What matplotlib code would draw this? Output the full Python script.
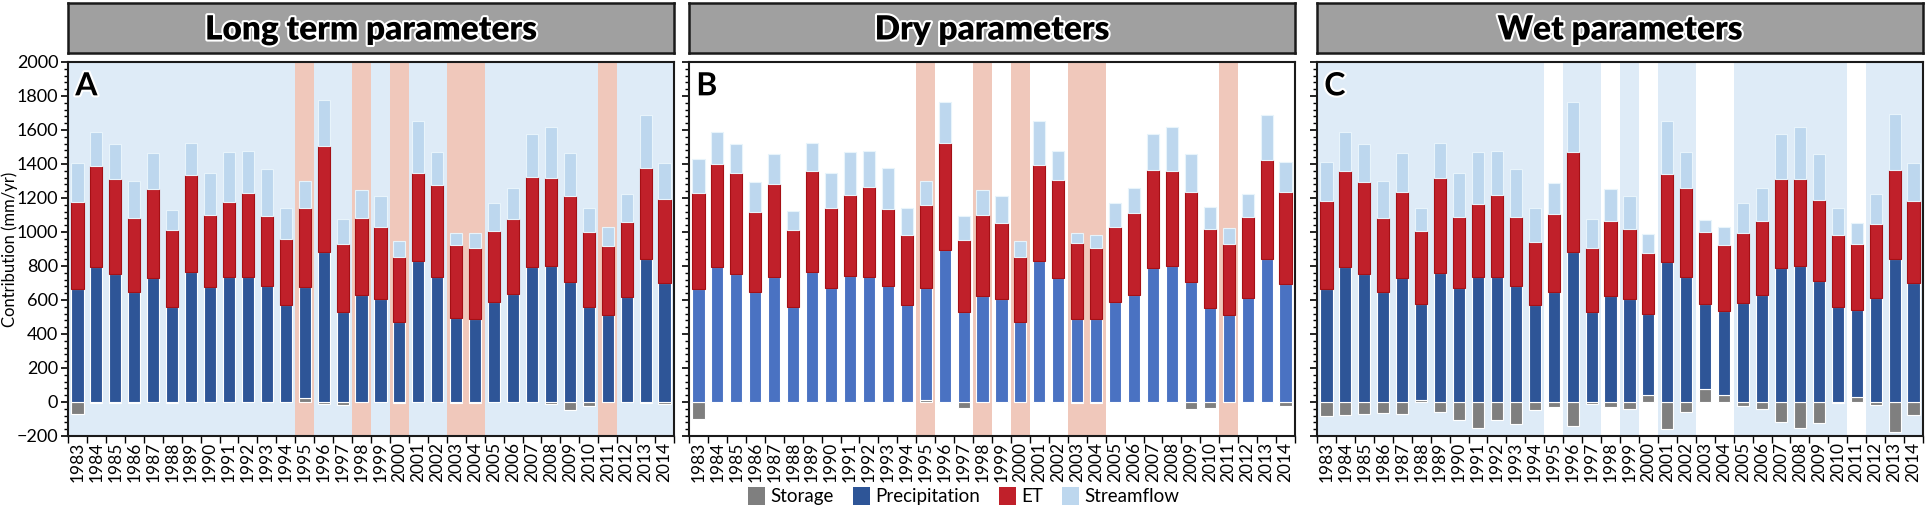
import matplotlib
matplotlib.use("Agg")
import matplotlib.pyplot as plt
import matplotlib.patheffects as pe
from matplotlib.patches import Patch
from matplotlib.ticker import MultipleLocator, FixedLocator
import numpy as np

plt.rcParams['font.family'] = ['Lato', 'DejaVu Sans']

years = [1983, 1984, 1985, 1986, 1987, 1988, 1989, 1990, 1991, 1992, 1993, 1994,
         1995, 1996, 1997, 1998, 1999, 2000, 2001, 2002, 2003, 2004, 2005, 2006,
         2007, 2008, 2009, 2010, 2011, 2012, 2013, 2014]
dry_years = [1995, 1998, 2000, 2003, 2004, 2011]

panel_titles = ["Long term parameters", "Dry parameters", "Wet parameters"]
panel_letters = ["A", "B", "C"]

# Panel A (long term parameters)
storage_A = [-73, -3, -5, -3, 0, -5, 0, 0, 0, 0, 0, 0, 24, -10, -15, 0, 0, -3, 0, 0, -3, -5,
             0, 0, 0, -10, -45, -24, 0, 0, -8, -14]
precip_A = [663, 792, 755, 647, 731, 556, 763, 674, 733, 733, 684, 568, 650, 882, 529, 627,
            604, 472, 828, 733, 493, 490, 588, 633, 792, 802, 708, 556, 509, 617, 840, 698]
et_A = [515, 594, 559, 437, 520, 456, 570, 424, 443, 498, 408, 389, 465, 626, 400, 455,
        427, 379, 519, 542, 432, 414, 420, 445, 530, 516, 504, 442, 409, 440, 535, 496]
q_A = [228, 200, 204, 214, 212, 115, 191, 247, 297, 246, 277, 186, 163, 271, 147, 167,
       181, 98, 304, 196, 69, 90, 165, 183, 256, 298, 255, 145, 109, 167, 315, 212]

# Panel B (dry parameters)
storage_B = [-100, 0, -8, -3, 0, -5, 0, -3, 0, 0, -5, 0, 14, -3, -35, 0, 0, 0, 0, -3, -5, -3,
             0, 0, 0, -8, -43, -33, 0, 0, -8, -22]
precip_B = [663, 796, 755, 645, 733, 556, 763, 668, 741, 735, 680, 568, 654, 892, 527, 621,
            604, 470, 828, 731, 491, 488, 588, 631, 786, 800, 708, 554, 509, 613, 841, 696]
et_B = [566, 604, 590, 475, 549, 458, 594, 473, 477, 530, 455, 414, 491, 630, 426, 481,
        449, 385, 566, 577, 442, 416, 443, 479, 581, 561, 525, 466, 420, 475, 581, 539]
q_B = [200, 186, 175, 176, 179, 112, 169, 208, 253, 210, 240, 159, 143, 243, 139, 147,
       159, 92, 257, 169, 63, 80, 142, 151, 211, 255, 228, 129, 96, 134, 268, 179]

# Panel C (wet parameters)
storage_C = [-81, -79, -71, -67, -69, 12, -57, -104, -153, -106, -132, -47, -28, -140, -12,
             -31, -43, 39, -159, -57, 79, 43, -26, -41, -116, -151, -124, -8, 28, -20, -177, -75]
precip_C = [663, 792, 755, 647, 729, 564, 761, 670, 733, 735, 684, 568, 649, 883, 529, 623,
            604, 476, 826, 733, 495, 492, 584, 629, 790, 802, 710, 556, 515, 611, 839, 698]
et_C = [519, 569, 541, 433, 508, 430, 555, 418, 430, 481, 402, 375, 459, 590, 379, 444,
        414, 360, 517, 528, 426, 387, 408, 434, 522, 510, 478, 426, 388, 436, 526, 482]
q_C = [230, 229, 224, 218, 226, 135, 208, 257, 308, 259, 285, 198, 182, 292, 167, 184,
       194, 111, 308, 210, 73, 109, 181, 196, 265, 306, 273, 159, 124, 177, 327, 228]

panels = [
    (storage_A, precip_A, et_A, q_A),
    (storage_B, precip_B, et_B, q_B),
    (storage_C, precip_C, et_C, q_C),
]

C_STORAGE = '#7f7f7f'
C_PRECIP_DARK = '#2e5597'
C_PRECIP_LIGHT = '#4a72c2'
C_ET = '#c0202a'
C_Q = '#bdd7ee'
C_WET_BG = '#deebf7'
C_DRY_BG = '#f0c8bb'

precip_colors = [C_PRECIP_DARK, C_PRECIP_LIGHT, C_PRECIP_DARK]

W, H = 1928, 509
fig = plt.figure(figsize=(W / 100, H / 100), dpi=100)

ax_lefts = [68, 689, 1317]
ax_w = 606
ax_top, ax_bot = 62, 436
box_top, box_bot = 3, 53

x = np.arange(len(years))
bar_w = 0.64

for p, (st, pr, et, q) in enumerate(panels):
    st = np.array(st, dtype=float)
    pr = np.array(pr, dtype=float)
    et = np.array(et, dtype=float)
    q = np.array(q, dtype=float)

    ax = fig.add_axes([ax_lefts[p] / W, 1 - ax_bot / H, ax_w / W, (ax_bot - ax_top) / H])
    ax.set_xlim(-0.5, len(years) - 0.5)
    ax.set_ylim(-200, 2000)

    # background shading
    if p == 0:
        ax.set_facecolor(C_WET_BG)
    for i, yr in enumerate(years):
        if yr in dry_years:
            if p in (0, 1):
                ax.axvspan(i - 0.5, i + 0.5, color=C_DRY_BG, lw=0, zorder=0.5)
        else:
            if p == 2:
                ax.axvspan(i - 0.5, i + 0.5, color=C_WET_BG, lw=0, zorder=0.5)

    pos_st = np.clip(st, 0, None)
    ax.bar(x, st, width=bar_w, color=C_STORAGE, edgecolor='white', linewidth=0.8, zorder=2)
    ax.bar(x, pr, width=bar_w, bottom=pos_st, color=precip_colors[p],
           edgecolor='white', linewidth=0.8, zorder=2)
    ax.bar(x, et, width=bar_w, bottom=pos_st + pr, color=C_ET,
           edgecolor='#a50f15', linewidth=0.8, zorder=2)
    ax.bar(x, q, width=bar_w, bottom=pos_st + pr + et, color=C_Q,
           edgecolor='#e8f4fb', linewidth=0.8, zorder=2)

    # ticks
    ax.xaxis.set_major_locator(FixedLocator(x))
    ax.set_xticklabels([str(y) for y in years], rotation=90, fontsize=12.5)
    ax.xaxis.set_minor_locator(FixedLocator(np.arange(-0.5, len(years), 1.0)))
    ax.tick_params(axis='x', which='major', length=0, pad=4)
    ax.tick_params(axis='x', which='minor', length=5, width=1, direction='out')
    ax.yaxis.set_major_locator(MultipleLocator(200))
    ax.yaxis.set_minor_locator(MultipleLocator(40))
    ax.tick_params(axis='y', which='major', length=5, width=1.2, direction='out',
                   labelsize=13, pad=2)
    ax.tick_params(axis='y', which='minor', length=3, width=1, direction='out')
    if p != 0:
        ax.tick_params(axis='y', which='both', labelleft=False)
    for s in ax.spines.values():
        s.set_linewidth(1.5)
        s.set_color('#1a1a1a')

    ax.text(0.012, 0.975, panel_letters[p], transform=ax.transAxes, ha='left', va='top',
            fontsize=23, fontweight='bold', color='black', zorder=5,
            path_effects=[pe.withStroke(linewidth=3, foreground='white')])

    # title box
    bx = fig.add_axes([ax_lefts[p] / W, 1 - box_bot / H, ax_w / W, (box_bot - box_top) / H])
    bx.set_facecolor('#a0a0a0')
    bx.set_xticks([])
    bx.set_yticks([])
    for s in bx.spines.values():
        s.set_linewidth(1.8)
        s.set_color('#1a1a1a')
    bx.text(0.5, 0.47, panel_titles[p], transform=bx.transAxes, ha='center', va='center',
            fontsize=24, fontweight='heavy', color='black',
            path_effects=[pe.withStroke(linewidth=3, foreground='white')])

fig.text(1 / W, 1 - ((ax_top + ax_bot) / 2) / H, "Contribution (mm/yr)", rotation=90,
         ha='left', va='center', fontsize=12)

handles = [Patch(facecolor=C_STORAGE, edgecolor='none', label='Storage'),
           Patch(facecolor=C_PRECIP_DARK, edgecolor='none', label='Precipitation'),
           Patch(facecolor=C_ET, edgecolor='none', label='ET'),
           Patch(facecolor=C_Q, edgecolor='none', label='Streamflow')]
fig.legend(handles=handles, loc='center', bbox_to_anchor=(0.5, 1 - 496 / H), ncol=4,
           frameon=False, fontsize=13.5, handlelength=0.9, handleheight=1.1,
           handletextpad=0.3, columnspacing=1.0)

fig.savefig("out.png", dpi=100)
